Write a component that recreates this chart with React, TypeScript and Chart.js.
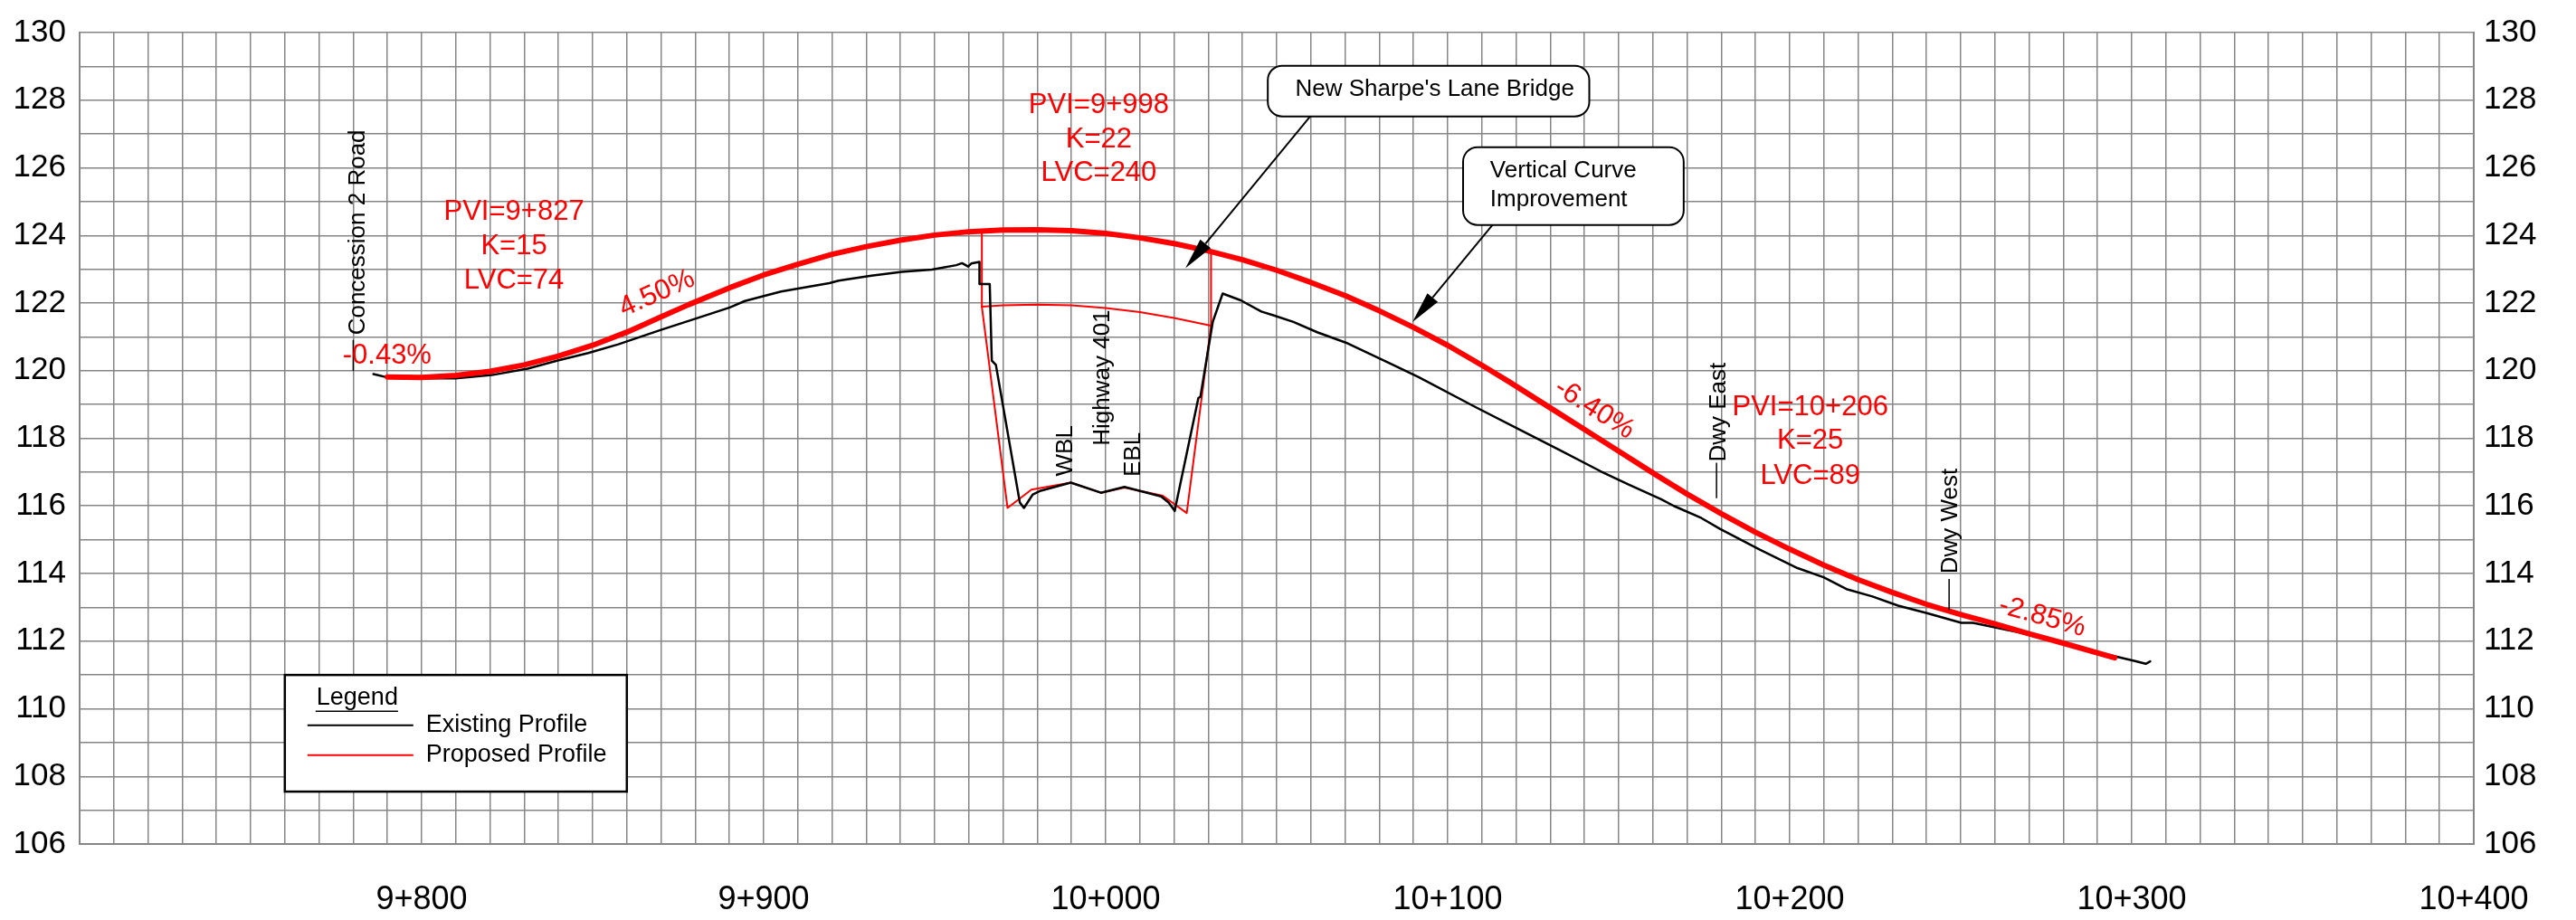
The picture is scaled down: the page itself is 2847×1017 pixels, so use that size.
import React, { useEffect, useRef } from 'react';
import { Chart, registerables } from 'chart.js';

Chart.register(...registerables);

const FONT = '"Liberation Sans", Arial, Helvetica, sans-serif';
const GRID_COLOR = '#868686';
const RED = '#ff0000';

// ---- axes ----
const xMin = 9700;
const xMax = 10400;
const xGridStep = 10;
const xLabelStep = 100;
const yMin = 106;
const yMax = 130;
const yGridStep = 1;
const yLabelStep = 2;

// ---- existing ground profile (chainage m, elevation m) ----
const existingCh = [
  9785.9, 9789.6, 9799.3, 9809.9, 9820.5, 9831.0, 9839.8, 9848.7, 9857.5, 9861.0,
  9869.8, 9880.4, 9890.1, 9894.5, 9905.1, 9919.2, 9921.9, 9931.5, 9940.4, 9949.2,
  9956.3, 9958.0, 9959.8, 9960.7, 9963.1, 9963.1, 9966.1, 9966.7, 9967.9, 9974.9,
  9976.1, 9978.7, 9981.0, 9989.8, 9998.6, 10005.5, 10016.2, 10018.4, 10020.2, 10020.6,
  10027.1, 10027.7, 10031.3, 10034.2, 10039.5, 10045.5, 10049.0, 10054.9, 10062.0, 10070.2,
  10083.2, 10091.5, 10108.0, 10121.0, 10132.8, 10144.6, 10152.9, 10162.4, 10166.1, 10174.2,
  10179.6, 10191.4, 10202.3, 10209.9, 10216.6, 10224.2, 10231.7, 10240.1, 10250.2, 10253.6,
  10267.0, 10283.9, 10300.7, 10304.1, 10305.4,
];
const existingEl = [
  119.90, 119.81, 119.77, 119.77, 119.87, 120.06, 120.30, 120.52, 120.78, 120.90,
  121.20, 121.55, 121.87, 122.06, 122.34, 122.59, 122.66, 122.81, 122.92, 122.99,
  123.12, 123.18, 123.08, 123.17, 123.22, 122.56, 122.56, 120.30, 120.17, 116.10,
  115.94, 116.34, 116.45, 116.69, 116.39, 116.56, 116.28, 116.10, 115.85, 116.06,
  119.19, 119.23, 121.44, 122.28, 122.08, 121.75, 121.64, 121.44, 121.13, 120.83,
  120.21, 119.81, 118.93, 118.26, 117.65, 117.03, 116.63, 116.20, 116.00, 115.64,
  115.32, 114.70, 114.16, 113.89, 113.54, 113.32, 113.05, 112.83, 112.54, 112.54,
  112.26, 111.82, 111.42, 111.33, 111.40,
];

// ---- proposed profile ----
const proposedCh = [
  9790, 9800, 9810, 9820, 9830, 9840, 9850, 9860, 9864, 9870,
  9878, 9890, 9900, 9910, 9920, 9930, 9940, 9950, 9960, 9970,
  9980, 9990, 10000, 10010, 10020, 10030, 10040, 10050, 10060, 10070,
  10080, 10090, 10100, 10110, 10118, 10130, 10140, 10150, 10161.5, 10170,
  10180, 10190, 10200, 10210, 10220, 10230, 10240, 10250.5, 10260, 10270,
  10280, 10295,
];
const proposedEl = [
  119.81, 119.80, 119.86, 119.98, 120.17, 120.43, 120.75, 121.14, 121.32, 121.59,
  121.95, 122.45, 122.83, 123.15, 123.44, 123.67, 123.86, 124.01, 124.11, 124.16,
  124.17, 124.14, 124.06, 123.93, 123.76, 123.54, 123.28, 122.97, 122.61, 122.22,
  121.77, 121.28, 120.75, 120.16, 119.67, 118.90, 118.26, 117.62, 116.88, 116.35,
  115.77, 115.22, 114.72, 114.25, 113.82, 113.44, 113.09, 112.77, 112.51, 112.22,
  111.94, 111.51,
];

// ---- bridge / highway 401 proposed section (thin red) ----
const structureCh = [9963.8, 9963.8, 9971.3, 9978.3, 9989.8, 9998.6, 10005.5, 10016.7, 10023.7, 10030.8, 10030.8];
const structureEl = [124.12, 121.89, 115.94, 116.48, 116.69, 116.39, 116.54, 116.30, 115.79, 121.34, 123.52];
const soffitCh = [9963.8, 9970, 9980, 9990, 10000, 10010, 10020, 10030.8];
const soffitEl = [121.89, 121.93, 121.95, 121.93, 121.85, 121.73, 121.56, 121.33];

// ---- annotations ----
const pviBlocks = [
  { ch: 9827, lines: ['PVI=9+827', 'K=15', 'LVC=74'], el: [124.69, 123.67, 122.66] },
  { ch: 9998, lines: ['PVI=9+998', 'K=22', 'LVC=240'], el: [127.85, 126.83, 125.84] },
  { ch: 10206, lines: ['PVI=10+206', 'K=25', 'LVC=89'], el: [118.9, 117.92, 116.89] },
];
const gradeLabels = [
  { text: '-0.43%', ch: 9789.9, el: 120.44, grade: 0 },
  { text: '4.50%', ch: 9868.8, el: 122.28, grade: 4.5 },
  { text: '-6.40%', ch: 10142.9, el: 118.86, grade: -6.4 },
  { text: '-2.85%', ch: 10273.8, el: 112.72, grade: -2.85 },
];
const featureLabels = [
  { text: 'Concession 2 Road', ch: 9781.5, el: 124.09, tick: [9780, 120.91, 119.99] },
  { text: 'Dwy East', ch: 10179.3, el: 118.77, tick: [10178.6, 117.28, 116.23] },
  { text: 'Dwy West', ch: 10247.0, el: 115.55, tick: [10246.6, 113.84, 112.91] },
  { text: 'Highway 401', ch: 9999.2, el: 119.79, tick: null },
  { text: 'WBL', ch: 9988.2, el: 117.63, tick: null },
  { text: 'EBL', ch: 10008.2, el: 117.52, tick: null },
];
const callouts = [
  {
    lines: ["New Sharpe's Lane Bridge"],
    box: [10047.4, 129.02, 10141.4, 127.52],
    align: 'center',
    textCh: 10096.2,
    textEl: [128.31],
    from: [10059.8, 127.52],
    to: [10023.3, 123.03],
  },
  {
    lines: ['Vertical Curve', 'Improvement'],
    box: [10104.5, 126.61, 10169.0, 124.31],
    align: 'left',
    textCh: 10112.4,
    textEl: [125.9, 125.06],
    from: [10113.1, 124.31],
    to: [10089.7, 121.44],
  },
];
const legendBox = [9760, 111.0, 9860, 107.55];
const legendTitle = 'Legend';

const fmtStation = (v: number) => {
  const r = Math.round(v);
  return `${Math.floor(r / 1000)}+${String(r % 1000).padStart(3, '0')}`;
};

const toXY = (xs: number[], ys: number[]) => xs.map((x, i) => ({ x, y: ys[i] }));

const annotationPlugin = {
  id: 'profileAnnotations',
  afterDatasetsDraw(chart: any) {
    const ctx: CanvasRenderingContext2D = chart.ctx;
    const xs = chart.scales.x;
    const ys = chart.scales.y;
    const px = (c: number) => xs.getPixelForValue(c);
    const py = (e: number) => ys.getPixelForValue(e);

    const text = (t: string, x: number, y: number, font: string, color: string, angle = 0, align: CanvasTextAlign = 'center') => {
      ctx.save();
      ctx.translate(x, y);
      ctx.rotate(angle);
      ctx.font = font;
      ctx.fillStyle = color;
      ctx.textAlign = align;
      ctx.textBaseline = 'middle';
      ctx.fillText(t, 0, 0);
      ctx.restore();
    };

    ctx.save();

    // feature labels (rotated black)
    featureLabels.forEach((f) => {
      text(f.text, px(f.ch), py(f.el), `26px ${FONT}`, '#000', -Math.PI / 2);
      if (f.tick) {
        ctx.strokeStyle = '#000';
        ctx.lineWidth = 1.5;
        ctx.beginPath();
        ctx.moveTo(px(f.tick[0]), py(f.tick[1]));
        ctx.lineTo(px(f.tick[0]), py(f.tick[2]));
        ctx.stroke();
      }
    });

    // PVI blocks
    pviBlocks.forEach((b) => {
      b.lines.forEach((l, i) => text(l, px(b.ch), py(b.el[i]), `31px ${FONT}`, RED));
    });

    // grade labels, rotated along the grade line
    gradeLabels.forEach((g) => {
      const ang = Math.atan2(py(g.el + (g.grade / 100) * 10) - py(g.el), px(g.ch + 10) - px(g.ch));
      text(g.text, px(g.ch), py(g.el), `31px ${FONT}`, RED, ang);
    });

    // callouts
    callouts.forEach((c) => {
      const x0 = px(c.box[0]);
      const y0 = py(c.box[1]);
      const x1 = px(c.box[2]);
      const y1 = py(c.box[3]);
      ctx.beginPath();
      (ctx as any).roundRect(x0, y0, x1 - x0, y1 - y0, 16);
      ctx.fillStyle = '#fff';
      ctx.fill();
      ctx.strokeStyle = '#000';
      ctx.lineWidth = 2;
      ctx.stroke();
      c.lines.forEach((l, i) => text(l, px(c.textCh), py(c.textEl[i]), `26px ${FONT}`, '#000', 0, c.align as CanvasTextAlign));

      const ax = px(c.from[0]);
      const ay = py(c.from[1]);
      const tx = px(c.to[0]);
      const ty = py(c.to[1]);
      const len = Math.hypot(tx - ax, ty - ay);
      const ux = (tx - ax) / len;
      const uy = (ty - ay) / len;
      const headL = 35;
      const headW = 7.5;
      const bx = tx - ux * headL;
      const by = ty - uy * headL;
      ctx.lineWidth = 2;
      ctx.beginPath();
      ctx.moveTo(ax, ay);
      ctx.lineTo(bx, by);
      ctx.stroke();
      ctx.beginPath();
      ctx.moveTo(tx, ty);
      ctx.lineTo(bx - uy * headW, by + ux * headW);
      ctx.lineTo(bx + uy * headW, by - ux * headW);
      ctx.closePath();
      ctx.fillStyle = '#000';
      ctx.fill();
    });

    // legend
    const lx0 = px(legendBox[0]);
    const ly0 = py(legendBox[1]);
    const lx1 = px(legendBox[2]);
    const ly1 = py(legendBox[3]);
    ctx.fillStyle = '#fff';
    ctx.fillRect(lx0, ly0, lx1 - lx0, ly1 - ly0);
    ctx.strokeStyle = '#000';
    ctx.lineWidth = 2.5;
    ctx.strokeRect(lx0, ly0, lx1 - lx0, ly1 - ly0);
    ctx.font = `27px ${FONT}`;
    const tw = ctx.measureText(legendTitle).width;
    text(legendTitle, lx0 + 35, ly0 + 25, `27px ${FONT}`, '#000', 0, 'left');
    ctx.lineWidth = 1.5;
    ctx.beginPath();
    ctx.moveTo(lx0 + 34, ly0 + 40);
    ctx.lineTo(lx0 + 35 + tw, ly0 + 40);
    ctx.stroke();
    const items = [chart.data.datasets[1], chart.data.datasets[0]];
    items.forEach((ds: any, i: number) => {
      const yy = ly0 + 55.5 + i * 33;
      ctx.strokeStyle = ds.borderColor;
      ctx.lineWidth = 2;
      ctx.beginPath();
      ctx.moveTo(lx0 + 25, yy);
      ctx.lineTo(lx0 + 142, yy);
      ctx.stroke();
      text(ds.label, lx0 + 156, yy, `27px ${FONT}`, '#000', 0, 'left');
    });

    ctx.restore();
  },
};

export default function App() {
  const ref = useRef<HTMLCanvasElement>(null);

  useEffect(() => {
    if (!ref.current) return;
    const lineBase = { pointRadius: 0, tension: 0, fill: false, borderJoinStyle: 'round', borderCapStyle: 'round' };
    const chart = new Chart(ref.current, {
      type: 'line',
      data: {
        datasets: [
          { ...lineBase, label: 'Proposed Profile', data: toXY(proposedCh, proposedEl), borderColor: RED, borderWidth: 6 },
          { ...lineBase, label: 'Existing Profile', data: toXY(existingCh, existingEl), borderColor: '#000000', borderWidth: 2.5 },
          { ...lineBase, label: 'Proposed Section', data: toXY(structureCh, structureEl), borderColor: RED, borderWidth: 2 },
          { ...lineBase, label: 'Bridge Soffit', data: toXY(soffitCh, soffitEl), borderColor: RED, borderWidth: 2 },
        ] as any,
      },
      options: {
        animation: false,
        responsive: false,
        devicePixelRatio: 1,
        layout: { padding: { top: 27, left: 0, right: 0, bottom: 0 } },
        plugins: { legend: { display: false }, tooltip: { enabled: false } },
        scales: {
          x: {
            type: 'linear',
            position: 'bottom',
            min: xMin,
            max: xMax,
            ticks: {
              stepSize: xGridStep,
              autoSkip: false,
              maxRotation: 0,
              minRotation: 0,
              padding: 40,
              color: '#000',
              font: { family: FONT, size: 36 },
              callback: (v: any) => {
                const n = Math.round(Number(v));
                return n % xLabelStep === 0 && n > xMin ? fmtStation(n) : '';
              },
            },
            grid: { color: GRID_COLOR, lineWidth: 1.5, drawTicks: false },
            border: { color: GRID_COLOR, width: 2 },
            afterFit: (s: any) => {
              s.height = 84;
            },
          },
          y: {
            type: 'linear',
            position: 'left',
            min: yMin,
            max: yMax,
            ticks: {
              stepSize: yGridStep,
              autoSkip: false,
              padding: 15,
              color: '#000',
              font: { family: FONT, size: 35 },
              callback: (v: any) => (Math.round(Number(v)) % yLabelStep === 0 ? String(Math.round(Number(v))) : ''),
            },
            grid: { color: GRID_COLOR, lineWidth: 1.5, drawTicks: false },
            border: { color: GRID_COLOR, width: 2 },
            afterFit: (s: any) => {
              s.width = 88;
            },
          },
          y2: {
            type: 'linear',
            position: 'right',
            min: yMin,
            max: yMax,
            ticks: {
              stepSize: yGridStep,
              autoSkip: false,
              padding: 11,
              color: '#000',
              font: { family: FONT, size: 35 },
              callback: (v: any) => (Math.round(Number(v)) % yLabelStep === 0 ? String(Math.round(Number(v))) : ''),
            },
            grid: { drawOnChartArea: false, drawTicks: false },
            border: { color: GRID_COLOR, width: 2 },
            afterFit: (s: any) => {
              s.width = 113;
            },
          },
        },
      } as any,
      plugins: [annotationPlugin as any],
    });
    return () => chart.destroy();
  }, []);

  return (
    <div style={{ position: 'fixed', left: 0, top: 0, width: 2847, height: 1017, background: '#fff' }}>
      <canvas ref={ref} width={2847} height={1017} style={{ display: 'block', width: 2847, height: 1017 }} />
    </div>
  );
}
